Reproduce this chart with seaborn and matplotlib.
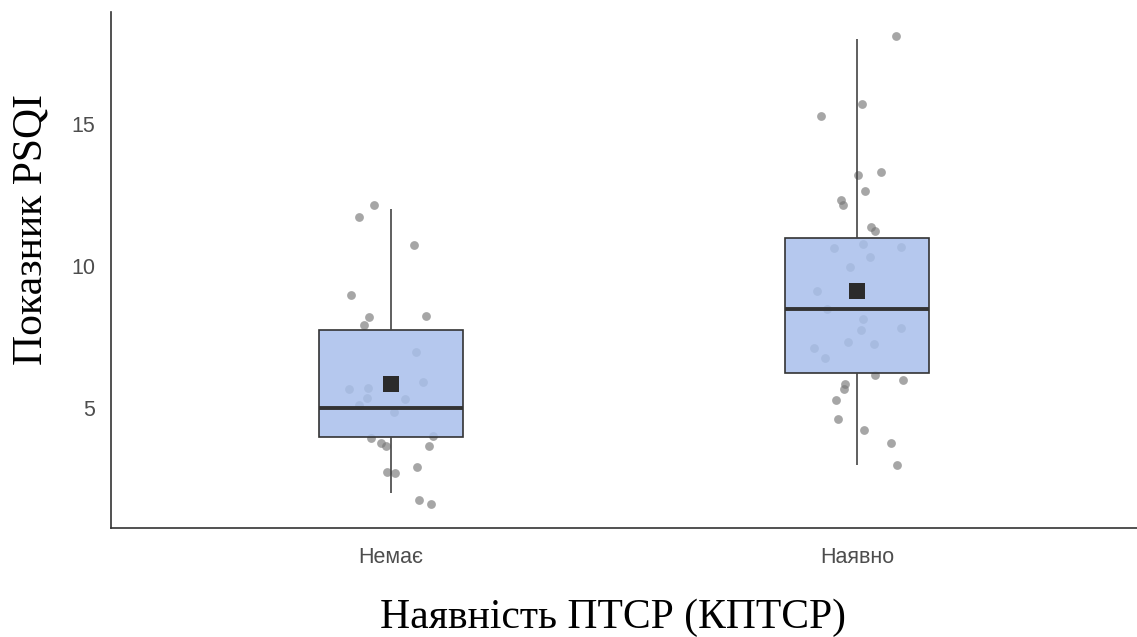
import numpy as np
import pandas as pd
import matplotlib
matplotlib.use('Agg')
import matplotlib.pyplot as plt
import seaborn as sns

# categories on x
groups = ['Немає', 'Наявно']

# jittered points as they appear (score shown, horizontal offset from group centre)
none_y = [12.13, 11.74, 10.75, 8.97, 8.22, 8.23, 7.92, 6.98, 5.92, 5.71, 5.67, 5.35, 5.32,
          5.10, 4.87, 3.94, 4.03, 3.77, 3.68, 3.66, 2.94, 2.77, 2.73, 1.75, 1.63, 5.85]
none_dx = [-0.036, -0.068, 0.049, -0.085, -0.047, 0.076, -0.058, 0.055, 0.068, -0.049, -0.090, -0.052, 0.031,
           -0.069, 0.006, -0.043, 0.090, -0.021, -0.010, 0.082, 0.057, -0.009, 0.010, 0.061, 0.087, 0.0]

present_y = [18.10, 15.71, 15.27, 13.19, 13.31, 12.65, 12.31, 12.16, 11.36, 11.22, 10.64, 10.78, 10.66,
             10.31, 9.97, 9.13, 8.12, 7.75, 7.83, 7.32, 7.26, 7.13, 6.78, 6.18, 5.99, 5.85, 5.68,
             5.28, 4.61, 4.23, 3.76, 3.01, 8.47, 9.10]
present_dx = [0.083, 0.011, -0.078, 0.001, 0.051, 0.016, -0.034, -0.030, 0.029, 0.038, -0.049, 0.013, 0.093,
              0.027, -0.016, -0.087, 0.012, 0.009, 0.093, -0.019, 0.036, -0.093, -0.069, 0.038, 0.098, -0.026, -0.029,
              -0.045, -0.041, 0.014, 0.073, 0.085, -0.064, 0.0]

df = pd.DataFrame({
    'group': [groups[0]] * len(none_y) + [groups[1]] * len(present_y),
    'shown': none_y + present_y,
    'pos': [0 + d for d in none_dx] + [1 + d for d in present_dx],
})
df['score'] = df['shown'].round()
means = df.groupby('group', sort=False)['score'].mean().reindex(groups)
mean_df = pd.DataFrame({'pos': [0, 1], 'mean': means.values})

sns.set_style('white')
plt.rcParams['font.family'] = ['Liberation Sans', 'DejaVu Sans']

fig = plt.figure(figsize=(11.37, 6.37), dpi=100)
ax = fig.add_axes([0.0976, 0.171, 0.9024, 0.81])

sns.boxplot(data=df, x='group', y='score', order=groups, width=0.31,
            color='#a8bfeb', linecolor='#333333', linewidth=1.2,
            showcaps=False, showfliers=False,
            medianprops=dict(linewidth=2.8, color='#333333'),
            whiskerprops=dict(color='#444444'), ax=ax)
for p in ax.patches:
    p.set_facecolor((0.66, 0.75, 0.92, 0.85))
    p.set_zorder(2)
for ln in ax.lines:
    ln.set_zorder(2.5)

sns.scatterplot(data=df, x='pos', y='shown', color='#777777', alpha=0.65, s=40,
                linewidth=0, ax=ax, zorder=1)
sns.scatterplot(data=mean_df, x='pos', y='mean', marker='s', s=120, color='#2b2b2b',
                linewidth=0, ax=ax, zorder=4)

ax.set_xlim(-0.6, 1.6)
ax.set_ylim(0.78, 18.93)
ax.set_xticks([0, 1])
ax.set_xticklabels(groups)
ax.set_yticks([5, 10, 15])
ax.tick_params(axis='both', length=4.5, width=1, color='#333333', labelcolor='#4d4d4d', labelsize=15.5, pad=7)
ax.tick_params(axis='x', pad=9)
ax.set_xlabel('Наявність ПТСР (КПТСР)', fontfamily='Liberation Serif', fontsize=30, color='black')
ax.set_ylabel('Показник PSQI', fontfamily='Liberation Serif', fontsize=30, color='black')
ax.xaxis.label.set_va('baseline')
ax.yaxis.label.set_va('baseline')
ax.xaxis.set_label_coords(0.489, -0.194)
ax.yaxis.set_label_coords(-0.0675, 0.5795)
sns.despine(ax=ax)
for s in ['left', 'bottom']:
    ax.spines[s].set_color('#333333')
    ax.spines[s].set_linewidth(1.2)

fig.savefig('out.png', dpi=100)
